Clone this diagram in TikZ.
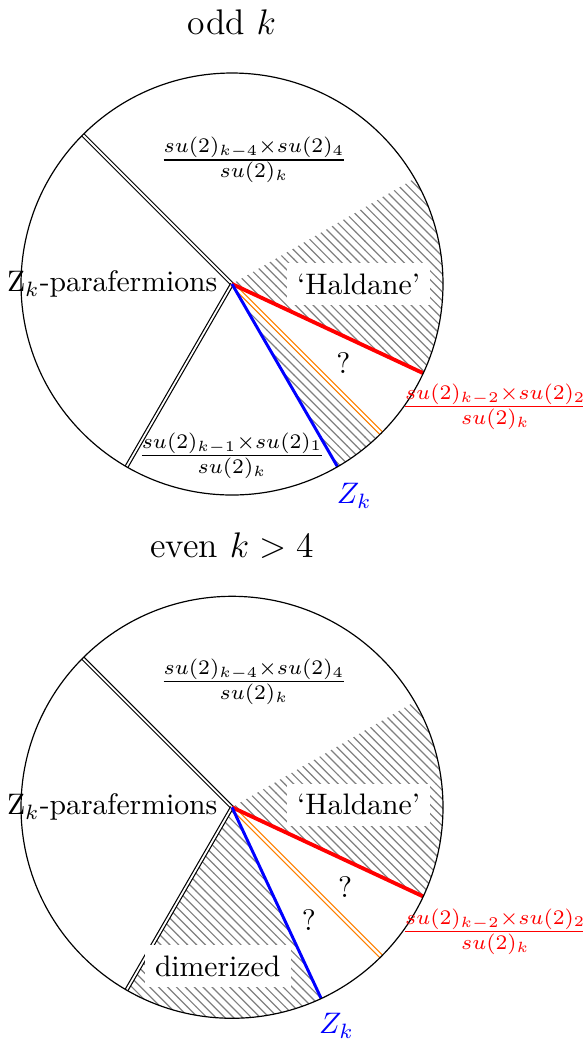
\documentclass[tikz,border=0pt]{standalone}
\usepackage{amsmath, amssymb}
\usepackage{xcolor}
\usepackage{tikz}
\usetikzlibrary{patterns, positioning}
\tikzset{
    hatch/.style={pattern=north west lines, pattern color=gray},
    wall/.style={draw=black, double=white},
    redline/.style={draw=red, line width=1.3pt},
    orangeline/.style={draw=orange, double=white, double distance=0.8pt},
    blueline/.style={draw=blue, line width=1pt},
    whitebox/.style={fill=white, inner sep=3.5pt}
}

\begin{document}
\begin{tikzpicture}
    \useasboundingbox (-2.749,-8.981) rectangle (4.147,3.365);

    % odd k
    \begin{scope}
    \coordinate (o1) at (0,0);
    \coordinate (a1) at (135:2.5);
    \coordinate (b1) at (240:2.5);
    \coordinate (h1) at (30:2.5);
    \coordinate (r1) at (-25:2.5);
    \coordinate (g1) at (-45:2.5);
    \coordinate (z1) at (-60:2.5);
    \fill [hatch] (o1) -- (h1) arc[start angle=30, end angle=-25, radius=2.5] -- cycle;
    \fill [hatch] (o1) -- (g1) arc[start angle=-45, end angle=-60, radius=2.5] -- cycle;
    \draw [wall] (o1) -- (a1);
    \draw [wall] (o1) -- (b1);
    \draw [orangeline] (o1) -- (g1);
    \draw [redline] (o1) -- (r1);
    \draw [blueline] (o1) -- (z1);
    \draw (o1) circle (2.5);

    \node (title1) at (0,3.1) {\large odd $k$};
    \node (para1) [anchor=east] at (-0.05,0) {Z$_k$-parafermions};
    \node (frac41) at (0.26,1.47) {$\frac{su(2)_{k-4}\times su(2)_4}{su(2)_k}$};
    \node (hald1) [whitebox] at (1.5,0) {`Haldane'};
    \node (q1) at (1.32,-0.94) {?};
    \node (frac11) at (0,-2.03) {$\frac{su(2)_{k-1}\times su(2)_1}{su(2)_k}$};
    \node (frac21) [text=red] at (3.12,-1.45) {$\frac{su(2)_{k-2}\times su(2)_2}{su(2)_k}$};
    \node (zk1) [text=blue] at (1.45,-2.51) {$Z_k$};
    \end{scope}

    % even k > 4
    \begin{scope}[yshift=-6.2cm]
    \coordinate (o2) at (0,0);
    \coordinate (a2) at (135:2.5);
    \coordinate (b2) at (240:2.5);
    \coordinate (h2) at (30:2.5);
    \coordinate (r2) at (-25:2.5);
    \coordinate (g2) at (-45:2.5);
    \coordinate (z2) at (-65:2.5);
    \fill [hatch] (o2) -- (h2) arc[start angle=30, end angle=-25, radius=2.5] -- cycle;
    \fill [hatch] (o2) -- (b2) arc[start angle=240, end angle=295, radius=2.5] -- cycle;
    \draw [wall] (o2) -- (a2);
    \draw [wall] (o2) -- (b2);
    \draw [orangeline] (o2) -- (g2);
    \draw [redline] (o2) -- (r2);
    \draw [blueline] (o2) -- (z2);
    \draw (o2) circle (2.5);

    \node (title2) at (0,3.1) {\large even $k>4$};
    \node (para2) [anchor=east] at (-0.05,0) {Z$_k$-parafermions};
    \node (frac42) at (0.26,1.49) {$\frac{su(2)_{k-4}\times su(2)_4}{su(2)_k}$};
    \node (hald2) [whitebox] at (1.5,0.03) {`Haldane'};
    \node (q2) at (1.34,-0.95) {?};
    \node (q3) at (0.91,-1.34) {?};
    \node (dim2) [whitebox] at (-0.17,-1.88) {dimerized};
    \node (frac22) [text=red] at (3.12,-1.47) {$\frac{su(2)_{k-2}\times su(2)_2}{su(2)_k}$};
    \node (zk2) [text=blue] at (1.24,-2.59) {$Z_k$};
    \end{scope}
\end{tikzpicture}
\end{document}
